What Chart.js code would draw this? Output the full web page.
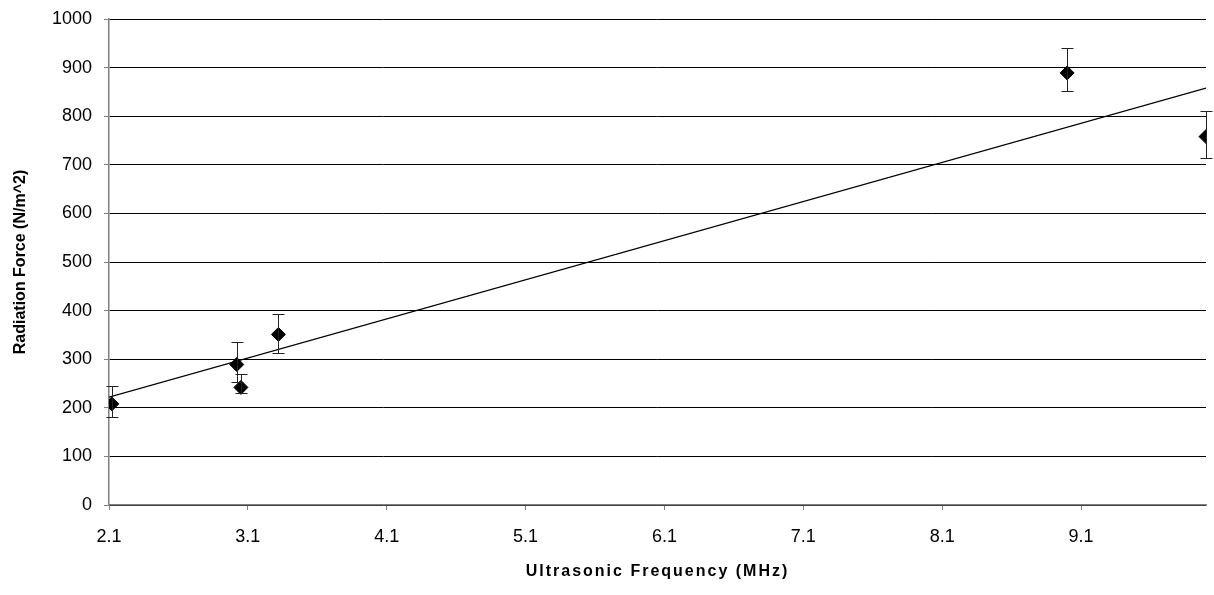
<!DOCTYPE html>
<html>
<head>
<meta charset="utf-8">
<script src="https://cdn.jsdelivr.net/npm/chart.js@4/dist/chart.umd.min.js"></script>
<style>
html,body{margin:0;padding:0;background:#fff;}
#wrap{width:1214px;height:595px;}
</style>
</head>
<body>
<div id="wrap"><canvas id="c" width="1214" height="595"></canvas></div>
<script>
// Data
const frequency = [2.12, 3.02, 3.05, 3.32, 9.0, 10.0];
const radiationForce = [208, 289, 242, 351, 889, 758];
const errorPlus = [37, 46, 28, 42, 52, 53];
const errorMinus = [27, 35, 12, 39, 37, 45];
const trendX = [2.1, 10.0];
const trendY = [222, 858];
const xTicks = [2.1, 3.1, 4.1, 5.1, 6.1, 7.1, 8.1, 9.1];
const yTicks = [0, 100, 200, 300, 400, 500, 600, 700, 800, 900, 1000];

const pts = frequency.map((x, i) => ({x: x, y: radiationForce[i]}));
const trend = trendX.map((x, i) => ({x: x, y: trendY[i]}));

const errorBars = {
  id: 'errorBars',
  afterDatasetsDraw(chart) {
    const ctx = chart.ctx;
    const xs = chart.scales.x, ys = chart.scales.y;
    ctx.save();
    ctx.strokeStyle = '#222';
    ctx.lineWidth = 1;
    frequency.forEach((f, i) => {
      const px = Math.round(xs.getPixelForValue(f)) + 0.5;
      const top = Math.round(ys.getPixelForValue(radiationForce[i] + errorPlus[i])) + 0.5;
      const bot = Math.round(ys.getPixelForValue(radiationForce[i] - errorMinus[i])) + 0.5;
      ctx.beginPath();
      ctx.moveTo(px, top); ctx.lineTo(px, bot);
      ctx.moveTo(px - 6, top); ctx.lineTo(px + 6, top);
      ctx.moveTo(px - 6, bot); ctx.lineTo(px + 6, bot);
      ctx.stroke();
    });
    ctx.restore();
  }
};

// widen the spacing of the x-axis title like the reference
function spaceTitle(scale, spacing) {
  if (scale._spacedTitle) return;
  scale._spacedTitle = true;
  const orig = scale.drawTitle;
  scale.drawTitle = function () {
    const ctx = this.ctx;
    const prev = ctx.letterSpacing;
    ctx.letterSpacing = spacing;
    orig.apply(this, arguments);
    ctx.letterSpacing = prev || '0px';
  };
}

Chart.defaults.font.family = '"Liberation Sans", Arial, sans-serif';
Chart.defaults.color = '#000';

new Chart(document.getElementById('c'), {
  type: 'scatter',
  data: {
    datasets: [
      {
        type: 'line',
        data: trend,
        borderColor: '#000',
        borderWidth: 1.2,
        pointRadius: 0,
        fill: false,
        order: 2
      },
      {
        data: pts,
        pointStyle: 'rectRot',
        pointRadius: 7,
        pointBackgroundColor: '#000',
        pointBorderColor: '#000',
        pointBorderWidth: 1,
        order: 1
      }
    ]
  },
  options: {
    responsive: false,
    devicePixelRatio: 1,
    animation: false,
    layout: {padding: {left: 0, right: 6, top: 19, bottom: 0}},
    plugins: {legend: {display: false}, tooltip: {enabled: false}},
    scales: {
      x: {
        type: 'linear',
        min: 2.1,
        max: 10.0,
        afterBuildTicks(s) { s.ticks = xTicks.map(v => ({value: v})); },
        afterFit(s) { s.height = 90; s.paddingLeft = 0; s.paddingRight = 0; spaceTitle(s, '2px'); },
        ticks: {
          font: {size: 18},
          padding: 16,
          maxRotation: 0,
          callback: v => v.toFixed(1)
        },
        grid: {drawOnChartArea: false, drawTicks: true, tickLength: 5, tickColor: '#808080'},
        border: {color: '#808080', width: 1.5},
        title: {
          display: true,
          text: 'Ultrasonic Frequency (MHz)',
          font: {size: 16, weight: 'bold'},
          padding: {top: 0, bottom: 14}
        }
      },
      y: {
        min: 0,
        max: 1000,
        afterBuildTicks(s) { s.ticks = yTicks.map(v => ({value: v})); },
        afterFit(s) { s.width = 109; s.paddingTop = 0; s.paddingBottom = 0; },
        ticks: {font: {size: 18}, padding: 12, callback: v => String(v)},
        grid: {color: '#000', lineWidth: 1, tickLength: 5, tickColor: '#808080'},
        border: {color: '#808080', width: 1.5},
        title: {
          display: true,
          text: 'Radiation Force (N/m^2)',
          font: {size: 16, weight: 'bold'},
          padding: {top: 11, bottom: 0}
        }
      }
    }
  },
  plugins: [errorBars]
});
</script>
</body>
</html>
